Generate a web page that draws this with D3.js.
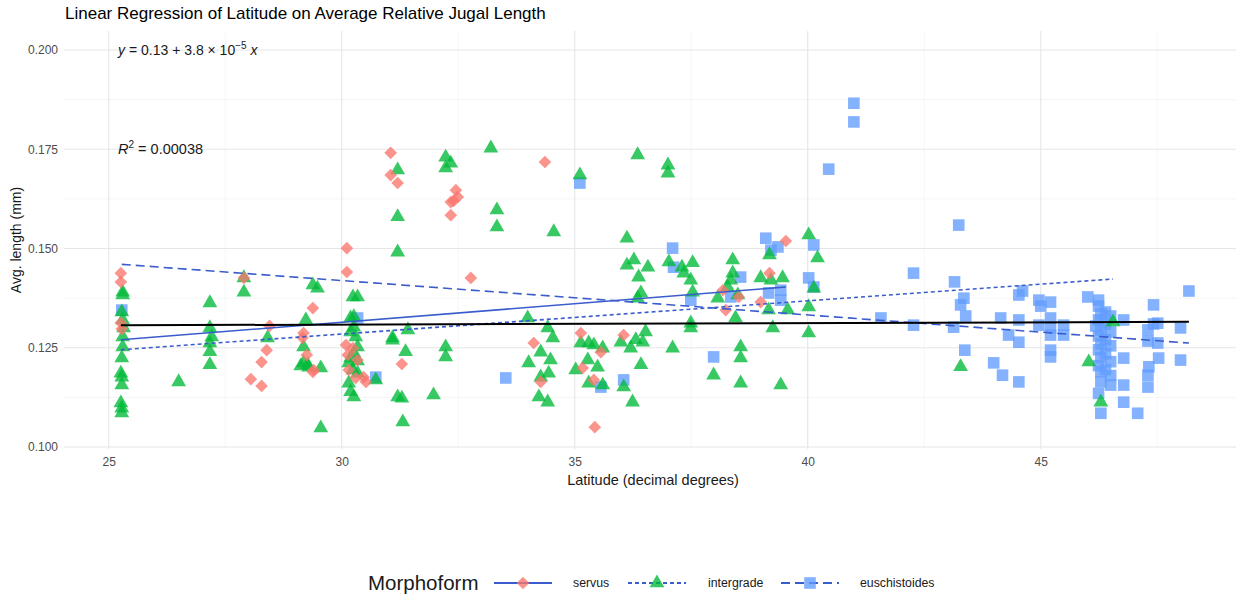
<!DOCTYPE html>
<html>
<head>
<meta charset="utf-8">
<script src="https://cdn.jsdelivr.net/npm/d3@7"></script>
<style>
	body { margin: 0; background: #fff; font-family: 'Liberation Sans', Arial, sans-serif; }
	svg text { font-family: 'Liberation Sans', Arial, sans-serif; }
</style>
</head>
<body>
<script>

const groups = [ 'servus', 'intergrade', 'euschistoides' ],
	groupColors = [ '#F8766D', '#00BA38', '#619CFF' ],
	groupShapes = [ 'diamond', 'triangle', 'square' ],
	groupDash = [ null, '4,3', '9,5' ]

const servus = [
	[25.26,0.1438],[25.26,0.1416],[25.26,0.1313],[25.28,0.1297],
	[27.90,0.1426],
	[28.05,0.1171],[28.28,0.1154],[28.28,0.1214],[28.39,0.1244],[28.45,0.1305],
	[29.38,0.1350],[29.18,0.1287],[29.16,0.1275],[29.25,0.1232],[29.38,0.1189],[29.40,0.1194],
	[30.11,0.1501],[30.11,0.1441],[30.09,0.1257],[30.13,0.1232],[30.34,0.1219],[30.30,0.1174],
	[30.47,0.1176],[30.15,0.1194],[30.24,0.1249],[30.52,0.1164],
	[31.05,0.1741],[31.05,0.1685],[31.20,0.1665],[31.29,0.1209],
	[32.34,0.1617],[32.45,0.1647],[32.49,0.1630],[32.34,0.1584],[32.40,0.1620],
	[32.77,0.1426],
	[34.36,0.1718],[34.12,0.1262],[34.27,0.1164],
	[35.13,0.1287],[35.17,0.1199],[35.41,0.1169],[35.56,0.1239],[35.43,0.1050],
	[36.05,0.1282],
	[39.53,0.1519],[39.18,0.1438],[38.99,0.1365],[38.18,0.1395],[38.24,0.1345],[38.52,0.1378]
]

const intergrade = [
	[25.30,0.1390],[25.30,0.1383],[25.28,0.1340],[25.30,0.1320],[25.32,0.1300],[25.30,0.1277],
	[25.30,0.1252],[25.28,0.1224],[25.26,0.1186],[25.28,0.1176],[25.28,0.1156],[25.26,0.1111],
	[25.28,0.1098],[25.28,0.1086],
	[26.50,0.1164],
	[27.17,0.1363],[27.17,0.1300],[27.21,0.1277],[27.17,0.1262],[27.17,0.1240],[27.17,0.1207],
	[27.90,0.1426],[27.90,0.1390],
	[28.41,0.1275],
	[29.23,0.1320],[29.18,0.1252],[29.18,0.1212],[29.12,0.1204],[29.29,0.1201],[29.55,0.1199],
	[29.38,0.1408],[29.48,0.1400],[29.55,0.1048],[29.27,0.1207],
	[30.24,0.1378],[30.34,0.1378],[30.26,0.1328],[30.26,0.1302],[30.30,0.1277],[30.34,0.1252],
	[30.26,0.1237],[30.24,0.1194],[30.34,0.1186],[30.15,0.1161],[30.19,0.1139],[30.26,0.1126],
	[30.19,0.1325],[30.19,0.1290],[30.19,0.1224],[30.15,0.1212],[30.34,0.1217],
	[30.73,0.1169],[31.09,0.1269],[31.20,0.1126],
	[31.20,0.1698],[31.20,0.1580],[31.20,0.1491],[31.09,0.1275],[31.42,0.1295],[31.37,0.1240],
	[31.29,0.1123],[31.31,0.1063],
	[32.23,0.1730],[32.34,0.1715],[32.23,0.1703],[32.23,0.1252],[32.23,0.1227],[31.97,0.1131],
	[33.20,0.1753],[33.33,0.1597],[33.33,0.1554],[34.55,0.1542],
	[33.99,0.1325],[34.42,0.1300],[34.53,0.1275],[34.27,0.1239],[34.01,0.1212],[34.48,0.1219],
	[34.44,0.1186],[34.27,0.1176],[34.23,0.1126],[34.42,0.1113],
	[35.11,0.1685],[35.13,0.1262],[35.30,0.1262],[35.41,0.1257],[35.60,0.1249],[35.28,0.1219],
	[35.49,0.1201],[35.02,0.1194],[35.30,0.1161],[35.60,0.1156],[36.05,0.1151],[36.24,0.1113],
	[36.12,0.1526],[36.12,0.1458],[36.27,0.1471],[36.37,0.1428],[36.57,0.1453],[35.99,0.1264],
	[36.20,0.1249],[36.31,0.1270],[36.46,0.1264],[36.52,0.1290],[36.42,0.1207],[36.35,0.1736],
	[37.00,0.1710],[37.00,0.1690],[36.42,0.1388],[36.35,0.1375],[37.10,0.1249],[37.02,0.1466],
	[37.53,0.1464],[37.34,0.1438],[37.49,0.1420],[37.53,0.1390],[37.49,0.1312],[37.49,0.1300],
	[37.30,0.1453],
	[38.39,0.1471],[38.39,0.1438],[38.35,0.1420],[38.28,0.1403],[38.07,0.1375],[38.50,0.1383],
	[38.45,0.1325],[38.56,0.1252],[38.56,0.1224],[38.56,0.1161],[37.98,0.1181],
	[39.18,0.1484],[38.99,0.1426],[39.21,0.1420],[39.46,0.1426],[39.16,0.1345],[39.57,0.1345],
	[39.25,0.1300],[39.42,0.1156],
	[40.02,0.1534],[40.21,0.1476],[40.13,0.1400],[40.02,0.1353],[40.02,0.1287],
	[43.28,0.1202],[46.03,0.1214],[46.55,0.1315],[46.29,0.1113]
]

const euschistoides = [
	[25.28,0.1345],[30.34,0.1325],[30.73,0.1176],[35.11,0.1665],[33.52,0.1174],[35.56,0.1151],
	[36.05,0.1169],[37.10,0.1501],[37.12,0.1453],
	[39.10,0.1526],[39.36,0.1504],[39.21,0.1496],[38.56,0.1428],[40.02,0.1426],[40.13,0.1509],
	[40.13,0.1403],[39.16,0.1388],[39.42,0.1395],[37.49,0.1370],[37.98,0.1227],[38.35,0.1378],
	[39.42,0.1370],
	[40.99,0.1866],[40.99,0.1819],[40.45,0.1700],[41.57,0.1325],[42.27,0.1438],[42.27,0.1307],
	[43.24,0.1559],[43.15,0.1416],[43.35,0.1375],[43.28,0.1358],[43.39,0.1330],[43.13,0.1302],
	[43.37,0.1244],
	[44.14,0.1325],[44.31,0.1282],[44.53,0.1383],[44.53,0.1320],[44.53,0.1264],[43.99,0.1212],
	[44.18,0.1181],[44.53,0.1164],
	[44.96,0.1370],[45.21,0.1365],[45.21,0.1325],[44.96,0.1307],[45.21,0.1300],[45.21,0.1282],
	[45.49,0.1307],[45.49,0.1282],[45.21,0.1244],[45.21,0.1227],[45.00,0.1355],[44.61,0.1393],
	[46.01,0.1378],[46.24,0.1370],[46.24,0.1355],[46.29,0.1335],[46.39,0.1340],[46.50,0.1330],
	[46.24,0.1320],[46.39,0.1310],[46.18,0.1305],[46.29,0.1295],[46.50,0.1290],[46.24,0.1280],
	[46.39,0.1270],[46.29,0.1260],[46.50,0.1255],[46.24,0.1245],[46.39,0.1235],[46.29,0.1225],
	[46.50,0.1215],[46.24,0.1205],[46.39,0.1195],[46.29,0.1190],[46.50,0.1180],[46.29,0.1164],
	[46.50,0.1156],[46.24,0.1135],[46.29,0.1085],
	[46.78,0.1320],[46.78,0.1224],[46.78,0.1156],[46.78,0.1113],[47.08,0.1085],
	[47.42,0.1358],[47.30,0.1295],[47.51,0.1312],[47.30,0.1267],[47.51,0.1262],[47.32,0.1202],
	[47.30,0.1181],[47.30,0.1151],[47.53,0.1224],[47.42,0.1310],
	[48.00,0.1300],[48.00,0.1219],[48.18,0.1393]
]

// Regressielijnen per groep (intercept + helling) en de totale lijn
const fitIntercepts = [ 0.1035, 0.10335, 0.16791 ],
	fitSlopes = [ 0.000931, 0.000837, -0.000866 ],
	overallIntercept = 0.1297,
	overallSlope = 3.8e-5

const xTicks = [ 25, 30, 35, 40, 45 ],
	xMinor = [ 27.5, 32.5, 37.5, 42.5, 47.5 ],
	yTicks = [ 0.100, 0.125, 0.150, 0.175, 0.200 ],
	yMinor = [ 0.1125, 0.1375, 0.1625, 0.1875 ]

const title = 'Linear Regression of Latitude on Average Relative Jugal Length',
	xTitle = 'Latitude (decimal degrees)',
	yTitle = 'Avg. length (mm)',
	legendTitle = 'Morphoform'

// Layout
const W = 1243, H = 598,
	panel = { left: 64, right: 1236, top: 31, bottom: 449 },
	lineBlue = '#3a5ccc'

const svg = d3.select( 'body' )
	.append( 'svg' )
	.attr( 'width', W )
	.attr( 'height', H )

const x = d3.scaleLinear()
		.domain( [ 24.04, 49.19 ] )
		.range( [ panel.left, panel.right ] ),
	y = d3.scaleLinear()
		.domain( [ 0.0995, 0.2048 ] )
		.range( [ panel.bottom, panel.top ] )

// Grid
const grid = svg.append( 'g' )

grid.selectAll( '.minor-x' )
	.data( xMinor )
	.enter()
	.append( 'line' )
	.attr( 'x1', d => x( d ) ).attr( 'x2', d => x( d ) )
	.attr( 'y1', panel.top ).attr( 'y2', panel.bottom )
	.attr( 'stroke', '#f2f2f2' )
	.attr( 'stroke-width', 0.8 )

grid.selectAll( '.minor-y' )
	.data( yMinor )
	.enter()
	.append( 'line' )
	.attr( 'x1', panel.left ).attr( 'x2', panel.right )
	.attr( 'y1', d => y( d ) ).attr( 'y2', d => y( d ) )
	.attr( 'stroke', '#f2f2f2' )
	.attr( 'stroke-width', 0.8 )

grid.selectAll( '.major-x' )
	.data( xTicks )
	.enter()
	.append( 'line' )
	.attr( 'x1', d => x( d ) ).attr( 'x2', d => x( d ) )
	.attr( 'y1', panel.top ).attr( 'y2', panel.bottom )
	.attr( 'stroke', '#e6e6e6' )
	.attr( 'stroke-width', 1.1 )

grid.selectAll( '.major-y' )
	.data( yTicks )
	.enter()
	.append( 'line' )
	.attr( 'x1', panel.left ).attr( 'x2', panel.right )
	.attr( 'y1', d => y( d ) ).attr( 'y2', d => y( d ) )
	.attr( 'stroke', '#e6e6e6' )
	.attr( 'stroke-width', 1.1 )

// Assen (alleen labels, theme_minimal)
svg.append( 'g' )
	.attr( 'transform', `translate( 0, ${ panel.bottom } )` )
	.call( d3.axisBottom( x ).tickValues( xTicks ).tickSize( 0 ).tickPadding( 8 ).tickFormat( d3.format( 'd' ) ) )

svg.append( 'g' )
	.attr( 'transform', `translate( ${ panel.left }, 0 )` )
	.call( d3.axisLeft( y ).tickValues( yTicks ).tickSize( 0 ).tickPadding( 6 ).tickFormat( d3.format( '.3f' ) ) )

svg.selectAll( '.domain' ).remove()
svg.selectAll( '.tick text' )
	.attr( 'fill', '#4d4d4d' )
	.style( 'font-size', '12px' )

// Punten
const shapeType = {
	diamond: d3.symbolSquare,
	triangle: d3.symbolTriangle,
	square: d3.symbolSquare
}
const shapeSize = { diamond: 80, triangle: 95, square: 135 }

function symbolPath( shape ) {
	return d3.symbol().type( shapeType[ shape ] ).size( shapeSize[ shape ] )()
}

function symbolTransform( shape, px, py ) {
	return shape === 'diamond' ? `translate( ${ px }, ${ py } ) rotate( 45 )` : `translate( ${ px }, ${ py } )`
}

const series = [ servus, intergrade, euschistoides ]
const drawOrder = [ 2, 1, 0 ]

drawOrder.forEach( gi => {
	svg.append( 'g' )
		.selectAll( 'path' )
		.data( series[ gi ] )
		.enter()
		.append( 'path' )
		.attr( 'd', symbolPath( groupShapes[ gi ] ) )
		.attr( 'transform', d => symbolTransform( groupShapes[ gi ], x( d[ 0 ] ), y( d[ 1 ] ) ) )
		.attr( 'fill', groupColors[ gi ] )
		.attr( 'fill-opacity', 0.78 )
})

// Regressielijnen per groep
const line = d3.line()
	.x( d => x( d[ 0 ] ) )
	.y( d => y( d[ 1 ] ) )

groups.forEach( ( g, gi ) => {
	const ext = d3.extent( series[ gi ], d => d[ 0 ] )
	const pts = ext.map( v => [ v, fitIntercepts[ gi ] + fitSlopes[ gi ] * v ] )
	svg.append( 'path' )
		.attr( 'd', line( pts ) )
		.attr( 'fill', 'none' )
		.attr( 'stroke', lineBlue )
		.attr( 'stroke-width', 1.6 )
		.attr( 'stroke-dasharray', groupDash[ gi ] )
})

// Totale regressielijn
const allLat = d3.extent( series.flat(), d => d[ 0 ] )
svg.append( 'path' )
	.attr( 'd', line( allLat.map( v => [ v, overallIntercept + overallSlope * v ] ) ) )
	.attr( 'fill', 'none' )
	.attr( 'stroke', '#000' )
	.attr( 'stroke-width', 2 )

// Annotaties
const eq = svg.append( 'text' )
	.attr( 'x', x( 25.2 ) )
	.attr( 'y', y( 0.200 ) )
	.attr( 'dy', '0.35em' )
	.style( 'font-size', '14px' )
	.attr( 'fill', '#1a1a1a' )

eq.append( 'tspan' ).style( 'font-style', 'italic' ).text( 'y' )
eq.append( 'tspan' ).text( ' = 0.13 + 3.8 × 10' )
eq.append( 'tspan' ).attr( 'dy', '-6' ).style( 'font-size', '10px' ).text( '−5' )
eq.append( 'tspan' ).attr( 'dy', '6' ).style( 'font-style', 'italic' ).text( ' x' )

const r2 = svg.append( 'text' )
	.attr( 'x', x( 25.2 ) )
	.attr( 'y', y( 0.175 ) )
	.attr( 'dy', '0.35em' )
	.style( 'font-size', '14.5px' )
	.attr( 'fill', '#1a1a1a' )

r2.append( 'tspan' ).style( 'font-style', 'italic' ).text( 'R' )
r2.append( 'tspan' ).attr( 'dy', '-6' ).style( 'font-size', '10px' ).text( '2' )
r2.append( 'tspan' ).attr( 'dy', '6' ).text( ' = 0.00038' )

// Titels
svg.append( 'text' )
	.attr( 'x', panel.left + 1 )
	.attr( 'y', 19 )
	.style( 'font-size', '17px' )
	.attr( 'fill', '#000' )
	.text( title )

svg.append( 'text' )
	.attr( 'x', ( panel.left + panel.right ) / 2 + 3 )
	.attr( 'y', 485 )
	.attr( 'text-anchor', 'middle' )
	.style( 'font-size', '14.5px' )
	.attr( 'fill', '#1a1a1a' )
	.text( xTitle )

svg.append( 'text' )
	.attr( 'transform', `translate( 21, ${ ( panel.top + panel.bottom ) / 2 } ) rotate( -90 )` )
	.attr( 'text-anchor', 'middle' )
	.style( 'font-size', '14px' )
	.attr( 'fill', '#1a1a1a' )
	.text( yTitle )

// Legenda
const legendY = 583,
	keyStarts = [ 494, 628, 781 ],
	keyWidth = 58,
	labelStarts = [ 573, 708, 860 ]

svg.append( 'text' )
	.attr( 'x', 368 )
	.attr( 'y', legendY )
	.attr( 'dy', '0.35em' )
	.style( 'font-size', '20.5px' )
	.attr( 'fill', '#1a1a1a' )
	.text( legendTitle )

const item = svg.selectAll( '.legend-item' )
	.data( groups )
	.enter()
	.append( 'g' )
	.attr( 'class', 'legend-item' )

item.append( 'line' )
	.attr( 'x1', ( d, i ) => keyStarts[ i ] )
	.attr( 'x2', ( d, i ) => keyStarts[ i ] + keyWidth )
	.attr( 'y1', legendY ).attr( 'y2', legendY )
	.attr( 'stroke', lineBlue )
	.attr( 'stroke-width', 1.8 )
	.attr( 'stroke-dasharray', ( d, i ) => groupDash[ i ] )

item.append( 'path' )
	.attr( 'd', ( d, i ) => symbolPath( groupShapes[ i ] ) )
	.attr( 'transform', ( d, i ) => symbolTransform( groupShapes[ i ], keyStarts[ i ] + keyWidth / 2, legendY ) )
	.attr( 'fill', ( d, i ) => groupColors[ i ] )
	.attr( 'fill-opacity', 0.78 )

item.append( 'text' )
	.attr( 'x', ( d, i ) => labelStarts[ i ] )
	.attr( 'y', legendY )
	.attr( 'dy', '0.35em' )
	.style( 'font-size', '12.3px' )
	.attr( 'fill', '#1a1a1a' )
	.text( d => d )

</script>
</body>
</html>
